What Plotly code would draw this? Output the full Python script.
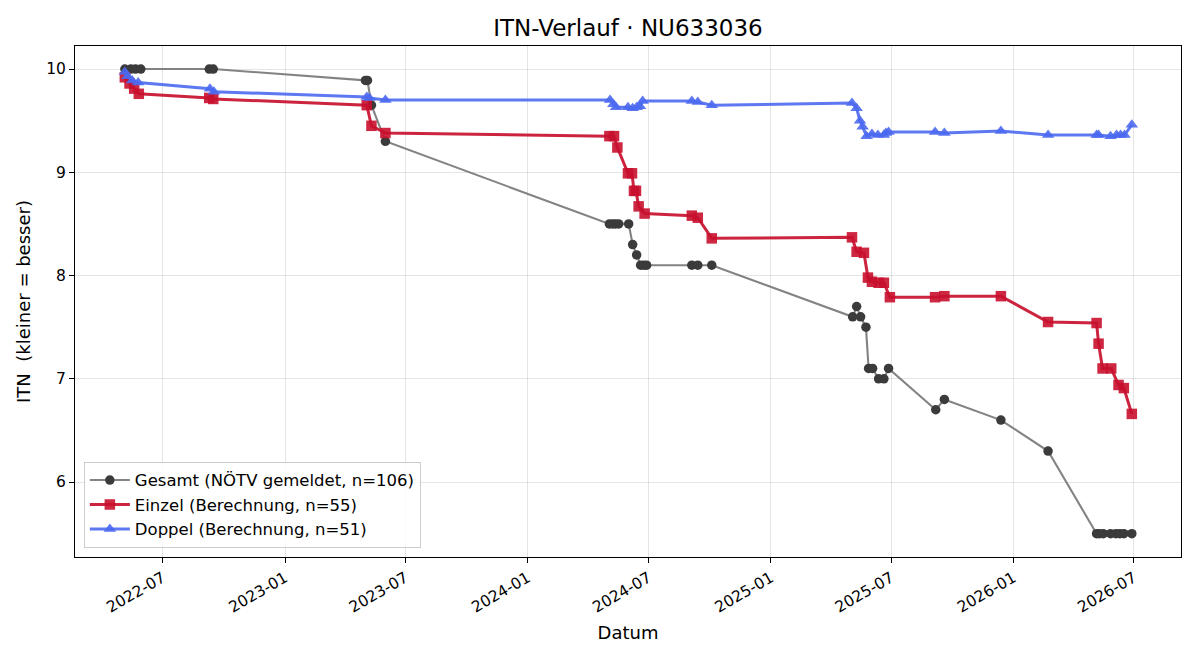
import plotly.graph_objects as go

# ---- data ----
gesamt_dates = ["2022-05-05", "2022-05-14", "2022-05-21", "2022-05-29", "2022-09-09", "2022-09-15",
                "2023-05-02", "2023-05-05", "2023-05-11", "2023-06-01",
                "2024-05-03", "2024-05-08", "2024-05-12", "2024-05-17", "2024-06-01", "2024-06-07",
                "2024-06-13", "2024-06-19", "2024-06-24", "2024-06-28", "2024-09-04", "2024-09-13", "2024-10-04",
                "2025-05-04", "2025-05-10", "2025-05-16", "2025-05-24", "2025-05-28", "2025-06-03",
                "2025-06-12", "2025-06-20", "2025-06-27", "2025-09-06", "2025-09-19", "2025-12-13",
                "2026-02-22", "2026-05-06", "2026-05-10", "2026-05-16", "2026-05-27", "2026-06-04",
                "2026-06-10", "2026-06-16", "2026-06-28"]
gesamt_vals = [10.0, 10.0, 10.0, 10.0, 10.0, 10.0,
               9.89, 9.89, 9.65, 9.3,
               8.5, 8.5, 8.5, 8.5, 8.5, 8.3,
               8.2, 8.1, 8.1, 8.1, 8.1, 8.1, 8.1,
               7.6, 7.7, 7.6, 7.5, 7.1, 7.1,
               7.0, 7.0, 7.1, 6.7, 6.8, 6.6,
               6.3, 5.5, 5.5, 5.5, 5.5, 5.5,
               5.5, 5.5, 5.5]

einzel_dates = ["2022-05-05", "2022-05-12", "2022-05-19", "2022-05-26", "2022-09-09", "2022-09-15",
                "2023-05-04", "2023-05-11", "2023-06-01",
                "2024-05-03", "2024-05-10", "2024-05-15", "2024-05-31", "2024-06-06", "2024-06-09",
                "2024-06-12", "2024-06-16", "2024-06-25", "2024-09-04", "2024-09-13", "2024-10-04",
                "2025-05-03", "2025-05-10", "2025-05-21", "2025-05-27", "2025-06-02", "2025-06-12",
                "2025-06-20", "2025-06-29", "2025-09-05", "2025-09-19", "2025-12-13",
                "2026-02-22", "2026-05-06", "2026-05-09", "2026-05-15", "2026-05-28", "2026-06-08",
                "2026-06-16", "2026-06-28"]
einzel_vals = [9.92, 9.86, 9.81, 9.76, 9.72, 9.71,
               9.65, 9.45, 9.38,
               9.35, 9.35, 9.24, 8.99, 8.99, 8.82,
               8.82, 8.67, 8.60, 8.58, 8.56, 8.36,
               8.37, 8.23, 8.22, 7.98, 7.94, 7.93,
               7.93, 7.79, 7.79, 7.80, 7.80,
               7.55, 7.54, 7.34, 7.10, 7.10, 6.94,
               6.91, 6.66]

doppel_dates = ["2022-05-05", "2022-05-09", "2022-05-16", "2022-05-25", "2022-09-10", "2022-09-16",
                "2023-05-04", "2023-05-08", "2023-06-01",
                "2024-05-04", "2024-05-09", "2024-05-13", "2024-05-31", "2024-06-07", "2024-06-13",
                "2024-06-18", "2024-06-22", "2024-09-04", "2024-09-13", "2024-10-04",
                "2025-05-03", "2025-05-10", "2025-05-15", "2025-05-19", "2025-05-25", "2025-06-02",
                "2025-06-11", "2025-06-20", "2025-06-23", "2025-06-27", "2025-09-05", "2025-09-19",
                "2025-12-13", "2026-02-22", "2026-05-06", "2026-05-09", "2026-05-27", "2026-06-05",
                "2026-06-11", "2026-06-17", "2026-06-28"]
doppel_vals = [9.97, 9.93, 9.89, 9.87, 9.81, 9.78,
               9.73, 9.72, 9.70,
               9.70, 9.66, 9.63, 9.63, 9.62, 9.63,
               9.64, 9.69, 9.69, 9.68, 9.65,
               9.67, 9.62, 9.50, 9.44, 9.35, 9.37,
               9.36, 9.36, 9.38, 9.39, 9.39, 9.38,
               9.40, 9.36, 9.36, 9.36, 9.35, 9.36,
               9.36, 9.36, 9.46]

tick_dates = ["2022-07-01", "2023-01-01", "2023-07-01", "2024-01-01", "2024-07-01",
              "2025-01-01", "2025-07-01", "2026-01-01", "2026-07-01"]
tick_labels = ["2022-07", "2023-01", "2023-07", "2024-01", "2024-07",
               "2025-01", "2025-07", "2026-01", "2026-07"]

FONT = "DejaVu Sans"

fig = go.Figure()
fig.add_trace(go.Scatter(
    x=gesamt_dates, y=gesamt_vals, mode="lines+markers",
    name="Gesamt (NÖTV gemeldet, n=106)",
    line=dict(color="rgba(118,118,118,0.9)", width=2.1),
    marker=dict(symbol="circle", size=9.5, color="#3b3b3b"),
))
fig.add_trace(go.Scatter(
    x=einzel_dates, y=einzel_vals, mode="lines+markers",
    name="Einzel (Berechnung, n=55)",
    line=dict(color="rgba(200,16,46,0.92)", width=3),
    marker=dict(symbol="square", size=10.5, color="rgba(200,16,46,0.9)"),
))
fig.add_trace(go.Scatter(
    x=doppel_dates, y=doppel_vals, mode="lines+markers",
    name="Doppel (Berechnung, n=51)",
    line=dict(color="rgba(75,105,240,0.9)", width=3),
    marker=dict(symbol="triangle-up", size=11, color="rgba(75,105,240,0.9)"),
))

fig.update_layout(
    width=1200, height=660,
    margin=dict(l=75, r=19, t=46, b=103),
    paper_bgcolor="white", plot_bgcolor="white",
    font=dict(family=FONT, size=15, color="black"),
    title=dict(text="ITN-Verlauf · NU633036", xref="paper", x=0.5, xanchor="center",
               y=0.957, yanchor="middle",
               font=dict(family=FONT, size=23, color="black")),
    legend=dict(x=0.008, y=0.018, xanchor="left", yanchor="bottom",
                bgcolor="rgba(255,255,255,0.85)", bordercolor="#cccccc", borderwidth=1,
                font=dict(family=FONT, size=16.5), itemwidth=40, tracegroupgap=0),
    showlegend=True,
)
fig.update_xaxes(
    range=["2022-02-19", "2026-09-10"],
    tickvals=tick_dates, ticktext=tick_labels, tickangle=-30,
    ticks="outside", ticklen=5, tickcolor="black", tickfont=dict(family=FONT, size=15.5),
    showgrid=True, gridcolor="rgba(0,0,0,0.1)", gridwidth=1,
    showline=True, linecolor="black", linewidth=1, mirror=True,
    title=dict(text="Datum", font=dict(family=FONT, size=18), standoff=10),
    zeroline=False,
)
fig.update_yaxes(
    range=[5.274, 10.223],
    tickvals=[6, 7, 8, 9, 10],
    ticks="outside", ticklen=5, tickcolor="black", tickfont=dict(family=FONT, size=15.5),
    showgrid=True, gridcolor="rgba(0,0,0,0.1)", gridwidth=1,
    showline=True, linecolor="black", linewidth=1, mirror=True,
    title=dict(text="ITN\u00a0 (kleiner = besser)", font=dict(family=FONT, size=18), standoff=10),
    zeroline=False,
)

fig.write_html("out.html")
